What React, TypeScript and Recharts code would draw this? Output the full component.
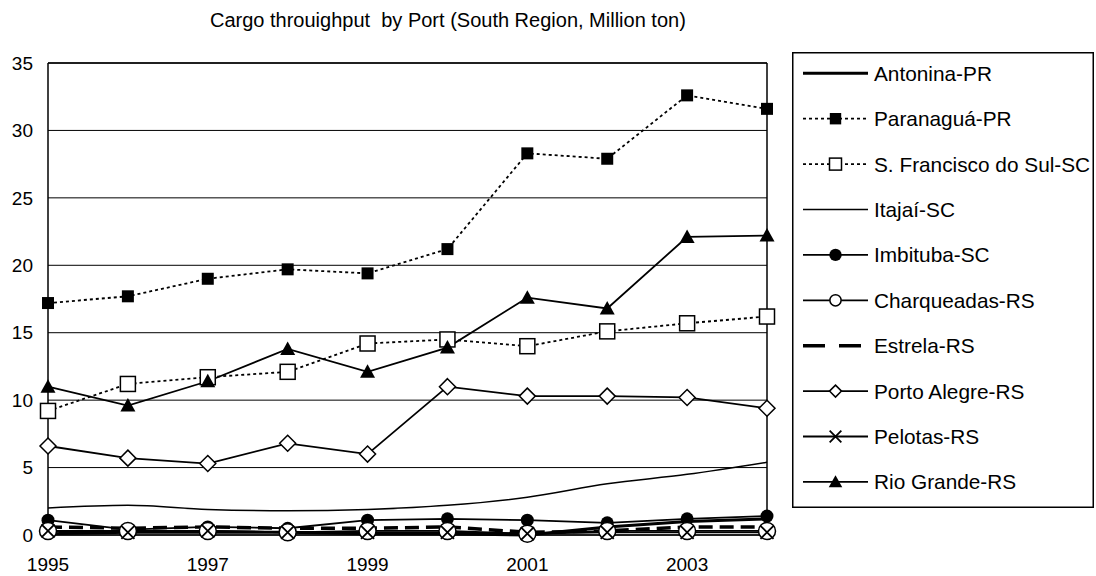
import React from "react";
import {
  LineChart,
  Line,
  XAxis,
  YAxis,
  CartesianGrid,
  ReferenceLine,
  Legend,
} from "recharts";

const FONT = "'Liberation Sans', Arial, sans-serif";

const years = ["1995", "1996", "1997", "1998", "1999", "2000", "2001", "2002", "2003", "2004"];
const yTicks = [0, 5, 10, 15, 20, 25, 30, 35];

const antonina = [0.1, 0.2, 0.2, 0.2, 0.1, 0.1, 0.0, 0.6, 1.0, 1.2];
const paranagua = [17.2, 17.7, 19.0, 19.7, 19.4, 21.2, 28.3, 27.9, 32.6, 31.6];
const saoFrancisco = [9.2, 11.2, 11.7, 12.1, 14.2, 14.5, 14.0, 15.1, 15.7, 16.2];
const itajai = [2.0, 2.2, 1.9, 1.8, 1.9, 2.2, 2.8, 3.8, 4.5, 5.4];
const imbituba = [1.1, 0.4, 0.6, 0.5, 1.1, 1.2, 1.1, 0.9, 1.2, 1.4];
const charqueadas = [0.3, 0.3, 0.3, 0.2, 0.3, 0.3, 0.1, 0.3, 0.3, 0.3];
const estrela = [0.6, 0.5, 0.6, 0.5, 0.5, 0.6, 0.2, 0.3, 0.6, 0.6];
const portoAlegre = [6.6, 5.7, 5.3, 6.8, 6.0, 11.0, 10.3, 10.3, 10.2, 9.4];
const pelotas = [0.3, 0.2, 0.3, 0.2, 0.2, 0.2, 0.1, 0.2, 0.2, 0.2];
const rioGrande = [11.0, 9.6, 11.4, 13.8, 12.1, 13.9, 17.6, 16.8, 22.1, 22.2];

type MarkerKind = "none" | "fsquare" | "osquare" | "fcircle" | "ocircle" | "diamond" | "cross" | "triangle";

const series = [
  { key: "antonina", name: "Antonina-PR", values: antonina, width: 3, dash: undefined, legendDash: undefined, marker: "none" as MarkerKind, type: "linear" },
  { key: "paranagua", name: "Paranaguá-PR", values: paranagua, width: 1.8, dash: "3 3", legendDash: "3 3", marker: "fsquare" as MarkerKind, type: "linear" },
  { key: "saoFrancisco", name: "S. Francisco do Sul-SC", values: saoFrancisco, width: 1.8, dash: "3 3", legendDash: "3 3", marker: "osquare" as MarkerKind, type: "linear" },
  { key: "itajai", name: "Itajaí-SC", values: itajai, width: 1.5, dash: undefined, legendDash: undefined, marker: "none" as MarkerKind, type: "monotone" },
  { key: "imbituba", name: "Imbituba-SC", values: imbituba, width: 1.8, dash: undefined, legendDash: undefined, marker: "fcircle" as MarkerKind, type: "linear" },
  { key: "charqueadas", name: "Charqueadas-RS", values: charqueadas, width: 1.8, dash: undefined, legendDash: undefined, marker: "ocircle" as MarkerKind, type: "linear" },
  { key: "estrela", name: "Estrela-RS", values: estrela, width: 3.5, dash: "14 7", legendDash: "22 14", marker: "none" as MarkerKind, type: "linear" },
  { key: "portoAlegre", name: "Porto Alegre-RS", values: portoAlegre, width: 1.8, dash: undefined, legendDash: undefined, marker: "diamond" as MarkerKind, type: "linear" },
  { key: "pelotas", name: "Pelotas-RS", values: pelotas, width: 1.8, dash: undefined, legendDash: undefined, marker: "cross" as MarkerKind, type: "linear" },
  { key: "rioGrande", name: "Rio Grande-RS", values: rioGrande, width: 1.8, dash: undefined, legendDash: undefined, marker: "triangle" as MarkerKind, type: "linear" },
];

const data = years.map((year, i) => {
  const row: Record<string, string | number> = { year };
  series.forEach((s) => {
    row[s.key] = s.values[i];
  });
  return row;
});

function Marker({ kind, cx, cy, s }: { kind: MarkerKind; cx: number; cy: number; s: number }) {
  switch (kind) {
    case "fsquare":
      return <rect x={cx - 6 * s} y={cy - 6 * s} width={12 * s} height={12 * s} fill="#000" />;
    case "osquare":
      return <rect x={cx - 7.5 * s} y={cy - 7.5 * s} width={15 * s} height={15 * s} fill="#fff" stroke="#000" strokeWidth={1.5} />;
    case "fcircle":
      return <circle cx={cx} cy={cy} r={6.5 * s} fill="#000" />;
    case "ocircle":
      return <circle cx={cx} cy={cy} r={8.5 * s} fill="#fff" stroke="#000" strokeWidth={1.5} />;
    case "diamond": {
      const r = 8 * s;
      return (
        <path
          d={`M${cx},${cy - r}L${cx + r},${cy}L${cx},${cy + r}L${cx - r},${cy}Z`}
          fill="#fff"
          stroke="#000"
          strokeWidth={1.5}
        />
      );
    }
    case "cross": {
      const r = 6.5 * s;
      return (
        <path
          d={`M${cx - r},${cy - r}L${cx + r},${cy + r}M${cx - r},${cy + r}L${cx + r},${cy - r}`}
          stroke="#000"
          strokeWidth={1.8}
          fill="none"
        />
      );
    }
    case "triangle": {
      const r = 7.5 * s;
      return (
        <path
          d={`M${cx},${cy - r}L${cx + r},${cy + r * 0.8}L${cx - r},${cy + r * 0.8}Z`}
          fill="#000"
        />
      );
    }
    default:
      return null;
  }
}

// legend swatches are a bit smaller than the plotted markers
const legendScale: Record<MarkerKind, number> = {
  none: 1,
  fsquare: 0.95,
  osquare: 0.8,
  fcircle: 0.95,
  ocircle: 0.66,
  diamond: 0.75,
  cross: 0.9,
  triangle: 0.9,
};

function makeDot(kind: MarkerKind) {
  if (kind === "none") return false;
  return (props: any) => (
    <Marker key={props.key ?? `${kind}-${props.index}`} kind={kind} cx={props.cx} cy={props.cy} s={1} />
  );
}

function LegendBox() {
  return (
    <svg width={302} height={456} style={{ display: "block" }}>
      <rect x={0.75} y={0.75} width={300.5} height={454.5} fill="#fff" stroke="#000" strokeWidth={1.5} />
      {series.map((s, i) => {
        const cy = 21.3 + i * 45.4;
        return (
          <g key={s.key}>
            <line
              x1={11}
              x2={76}
              y1={cy}
              y2={cy}
              stroke="#000"
              strokeWidth={s.width}
              strokeDasharray={s.legendDash}
            />
            <Marker kind={s.marker} cx={43.5} cy={cy} s={legendScale[s.marker]} />
            <text x={82} y={cy} dy="0.36em" fontSize={20.8} fontFamily={FONT} fill="#000">
              {s.name}
            </text>
          </g>
        );
      })}
    </svg>
  );
}

export default function App() {
  return (
    <div style={{ position: "absolute", left: 0, top: 0, width: 1096, height: 576, background: "#fff" }}>
      <div
        style={{
          position: "absolute",
          left: 210,
          top: 9,
          fontFamily: FONT,
          fontSize: 20,
          whiteSpace: "pre",
          color: "#000",
        }}
      >
        Cargo throuighput  by Port (South Region, Million ton)
      </div>
      <LineChart
        width={1096}
        height={576}
        data={data}
        margin={{ top: 63, right: 329, bottom: 0, left: 0 }}
      >
        <CartesianGrid vertical={false} stroke="#000" strokeWidth={1} />
        <XAxis
          dataKey="year"
          interval={1}
          tickLine={false}
          tickSize={0}
          tickMargin={23}
          height={41}
          axisLine={{ stroke: "#000", strokeWidth: 1.5 }}
          tick={{ fontSize: 19, fill: "#000", fontFamily: FONT }}
        />
        <YAxis
          domain={[0, 35]}
          ticks={yTicks}
          width={48}
          tickLine={false}
          tickSize={0}
          tickMargin={15}
          axisLine={{ stroke: "#000", strokeWidth: 1.5 }}
          tick={{ fontSize: 19, fill: "#000", fontFamily: FONT }}
        />
        <ReferenceLine x="2004" stroke="#000" strokeWidth={1.5} />
        <ReferenceLine y={35} stroke="#000" strokeWidth={1.5} />
        <Legend
          layout="horizontal"
          verticalAlign="middle"
          content={() => <LegendBox />}
          wrapperStyle={{ left: 792, top: 52, width: 302, height: 456 }}
        />
        {series.map((s) => (
          <Line
            key={s.key}
            dataKey={s.key}
            name={s.name}
            type={s.type as any}
            stroke="#000"
            strokeWidth={s.width}
            strokeDasharray={s.dash}
            dot={makeDot(s.marker)}
            activeDot={false}
            isAnimationActive={false}
          />
        ))}
      </LineChart>
    </div>
  );
}
